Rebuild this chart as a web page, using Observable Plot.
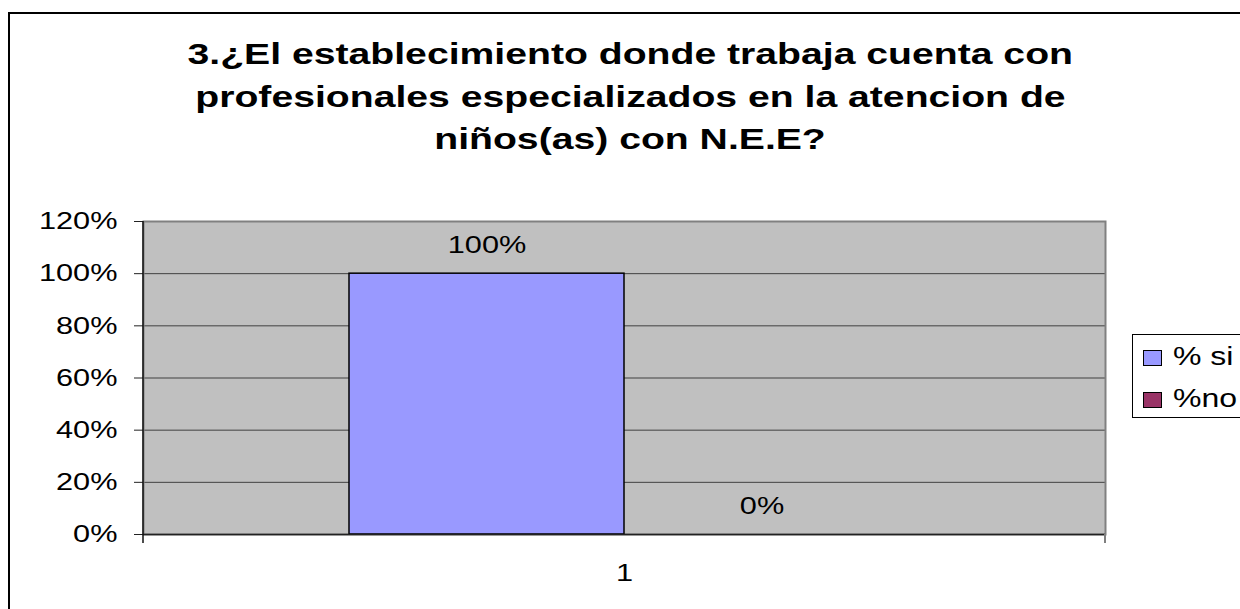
<!DOCTYPE html>
<html>
<head>
<meta charset="utf-8">
<script src="https://cdn.jsdelivr.net/npm/d3@7"></script>
<script src="https://cdn.jsdelivr.net/npm/@observablehq/plot@0.6"></script>
<style>
  html, body { margin: 0; padding: 0; background: #fff; }
  #root { position: relative; width: 1240px; height: 609px; overflow: hidden; font-family: "Liberation Sans", Arial, sans-serif; color: #000; }
  #frame { position: absolute; left: 8px; top: 12px; width: 1300px; height: 700px; border: 2.5px solid #000; box-sizing: border-box; pointer-events: none; }
  #title { position: absolute; left: 0; top: 33.4px; width: 1260px; text-align: center; font-weight: bold; font-size: 30px; line-height: 42.5px; }
  #title span { display: inline-block; transform: scaleX(1.305); transform-origin: center; white-space: nowrap; }
  #chart { position: absolute; left: 0; top: 0; }
  #legend { position: absolute; left: 1132px; top: 334px; width: 200px; height: 84px; border: 1px solid #000; box-sizing: border-box; background: #fff; }
  .sw { position: absolute; left: 10px; width: 19px; height: 16px; border: 1.5px solid #000; box-sizing: border-box; }
  .lt { position: absolute; left: 40px; font-size: 25px; line-height: 25px; white-space: nowrap; transform: scaleX(1.28); transform-origin: left center; }
</style>
</head>
<body>
<div id="root"></div>
<script>
// ---- data ----
const categories = ["1"];
const series = ["% si", "%no"];
const values = [1.00, 0.00];
const colors = ["#9999FF", "#993366"];
const yTicks = [0, 0.2, 0.4, 0.6, 0.8, 1.0, 1.2];
const titleLines = [
  "3.¿El establecimiento donde trabaja cuenta con",
  "profesionales especializados en la atencion de",
  "niños(as) con N.E.E?"
];

const data = series.map((s, i) => ({category: categories[0], series: s, value: values[i]}));
const pct = d3.format(".0%");

function boundaryTicks(index, scales, vals, dims) {
  const g = d3.create("svg:g");
  const y0 = dims.height - dims.marginBottom;
  const xl = dims.marginLeft, xr = dims.width - dims.marginRight;
  g.append("line").attr("x1", xl).attr("x2", xl).attr("y1", dims.marginTop).attr("y2", y0 + 9)
    .attr("stroke", "#111").attr("stroke-width", 1.5);
  g.append("line").attr("x1", xr).attr("x2", xr).attr("y1", y0).attr("y2", y0 + 9)
    .attr("stroke", "#808080").attr("stroke-width", 2);
  return g.node();
}

const chart = Plot.plot({
  width: 1240,
  height: 609,
  marginLeft: 143,
  marginRight: 135,
  marginTop: 221,
  marginBottom: 75,
  style: {fontFamily: "Liberation Sans, Arial, sans-serif", fontSize: "24px", color: "#000", background: "transparent", overflow: "visible"},
  fx: {domain: categories, padding: 0, label: null},
  x: {domain: series, paddingInner: 0, paddingOuter: 0.743, axis: null},
  y: {domain: [0, 1.2], axis: null},
  color: {domain: series, range: colors},
  marks: [
    Plot.frame({fill: "#C0C0C0"}),
    Plot.gridY(yTicks, {stroke: "#404040", strokeOpacity: 1, strokeWidth: 1}),
    Plot.frame({stroke: "#808080", strokeWidth: 2}),
    Plot.barY(data, {fx: "category", x: "series", y: "value", fill: "series", stroke: "#000", strokeWidth: 1.5}),
    Plot.text(data, {fx: "category", x: "series", y: "value", text: d => pct(d.value), dy: -28, fontSize: 24, fill: "#000"}),
    Plot.ruleY([0], {stroke: "#222", strokeWidth: 1.5}),
    Plot.axisY(yTicks, {tickFormat: pct, tickSize: 9, tickPadding: 17, fontSize: 24, stroke: "#222", label: null}),
    Plot.axisFx({anchor: "bottom", tickSize: 0, tickPadding: 29, fontSize: 24, label: null}),
    boundaryTicks
  ]
});
chart.id = "chart";

// horizontal stretch of the text as in the reference
chart.querySelectorAll("text").forEach(t => {
  let tr = t.getAttribute("transform") || "";
  if (t.hasAttribute("x")) {
    const x = parseFloat(t.getAttribute("x")) || 0;
    t.removeAttribute("x");
    tr = tr + ` translate(${x},0)`;
  }
  t.setAttribute("transform", tr + " scale(1.28,1)");
});

const root = document.getElementById("root");
root.appendChild(chart);

const frame = document.createElement("div");
frame.id = "frame";
root.appendChild(frame);

const title = document.createElement("div");
title.id = "title";
titleLines.forEach(line => {
  const row = document.createElement("div");
  const sp = document.createElement("span");
  sp.textContent = line;
  row.appendChild(sp);
  title.appendChild(row);
});
root.appendChild(title);

const legend = document.createElement("div");
legend.id = "legend";
series.forEach((s, i) => {
  const sw = document.createElement("div");
  sw.className = "sw";
  sw.style.top = (15 + 42 * i) + "px";
  sw.style.background = colors[i];
  legend.appendChild(sw);
  const lt = document.createElement("div");
  lt.className = "lt";
  lt.style.top = (9 + 42 * i) + "px";
  lt.textContent = s;
  legend.appendChild(lt);
});
root.appendChild(legend);
</script>
</body>
</html>
